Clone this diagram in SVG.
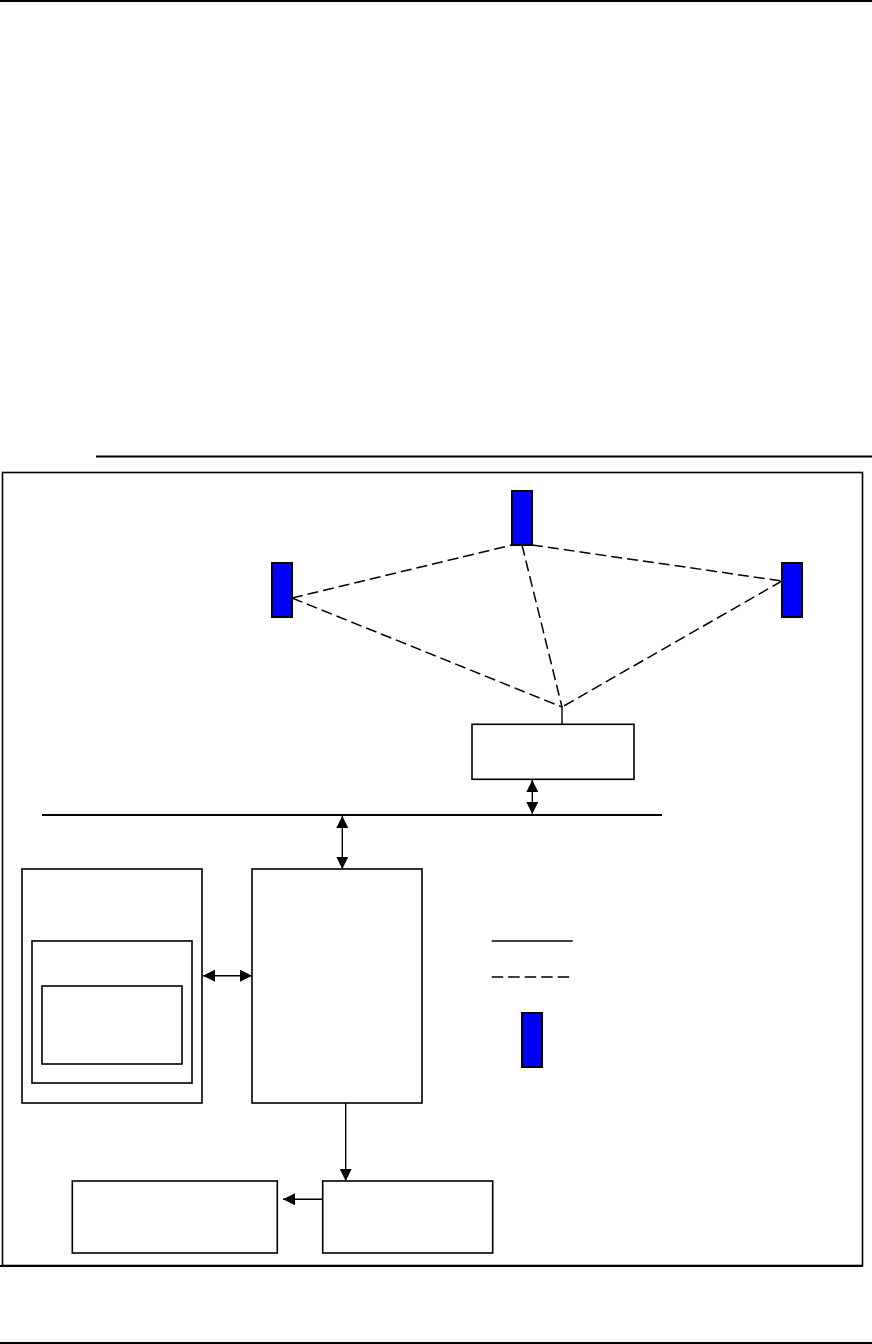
<svg xmlns="http://www.w3.org/2000/svg" width="872" height="1344" viewBox="0 0 872 1344">
<style>
.box{fill:#fff;stroke:#000;stroke-width:1.6}
.node{fill:#0000ff;stroke:#000;stroke-width:2}
.rule{stroke:#000;stroke-width:2;fill:none}
.ln{stroke:#000;stroke-width:1.4;fill:none}
.dash{stroke:#000;stroke-width:1.5;fill:none;stroke-dasharray:11 5}
.arr{stroke:#000;stroke-width:1.4;fill:none}
</style>
<defs>
<marker id="ah" viewBox="0 0 10 10" refX="10" refY="5" markerWidth="12" markerHeight="12" markerUnits="userSpaceOnUse" orient="auto-start-reverse">
<path d="M0,0 L10,5 L0,10 z" fill="#000"/>
</marker>
</defs>
<rect width="872" height="1344" fill="#fff"/>
<g id="page-rules">
<line class="rule" x1="0" y1="1" x2="872" y2="1"/>
<line class="rule" x1="96" y1="456.5" x2="872" y2="456.5"/>
<line class="rule" x1="0" y1="1343" x2="872" y2="1343"/>
</g>
<g id="frame">
<rect x="2.5" y="472.5" width="860" height="793" fill="none" stroke="#000" stroke-width="1.6"/>
<line class="rule" x1="0" y1="1266" x2="863" y2="1266"/>
</g>
<g id="connectors">
<line class="dash" x1="292" y1="598" x2="512" y2="545"/>
<line class="dash" x1="532" y1="545" x2="782" y2="581"/>
<line class="dash" x1="522" y1="545" x2="562" y2="707"/>
<line class="dash" x1="292" y1="598" x2="562" y2="707"/>
<line class="dash" x1="782" y1="581" x2="562" y2="707"/>
<line class="ln" x1="562" y1="706" x2="562" y2="724"/>
<line class="rule" x1="42" y1="815" x2="662" y2="815"/>
<line class="arr" x1="532.3" y1="780" x2="532.3" y2="814" marker-start="url(#ah)" marker-end="url(#ah)"/>
<line class="arr" x1="342.3" y1="816" x2="342.3" y2="869" marker-start="url(#ah)" marker-end="url(#ah)"/>
<line class="arr" x1="203" y1="975.7" x2="252" y2="975.7" marker-start="url(#ah)" marker-end="url(#ah)"/>
<line class="arr" x1="345.7" y1="1103" x2="345.7" y2="1181" marker-end="url(#ah)"/>
<line class="arr" x1="322.7" y1="1199.3" x2="283" y2="1199.3" marker-end="url(#ah)"/>
</g>
<g id="node-top"><rect class="node" x="512" y="491" width="20" height="54"/></g>
<g id="node-left"><rect class="node" x="272" y="563" width="20" height="54"/></g>
<g id="node-right"><rect class="node" x="782" y="563" width="20" height="54"/></g>
<g id="gateway"><rect class="box" x="472" y="724.3" width="162" height="55"/></g>
<g id="left-outer"><rect class="box" x="22" y="869" width="180" height="234"/></g>
<g id="left-middle"><rect class="box" x="32" y="941" width="160" height="142"/></g>
<g id="left-inner"><rect class="box" x="42" y="986" width="140" height="78"/></g>
<g id="center"><rect class="box" x="252" y="869" width="170" height="234"/></g>
<g id="bottom-right"><rect class="box" x="322.7" y="1181" width="170" height="72"/></g>
<g id="bottom-left"><rect class="box" x="72.3" y="1181" width="205" height="72"/></g>
<g id="legend">
<line class="ln" x1="491.7" y1="941" x2="572.7" y2="941" stroke-width="1.8"/>
<line class="ln" x1="491.7" y1="977" x2="572" y2="977" stroke-width="1.8" stroke-dasharray="11.5 5"/>
<rect class="node" x="522" y="1013" width="20" height="54"/>
</g>
</svg>
